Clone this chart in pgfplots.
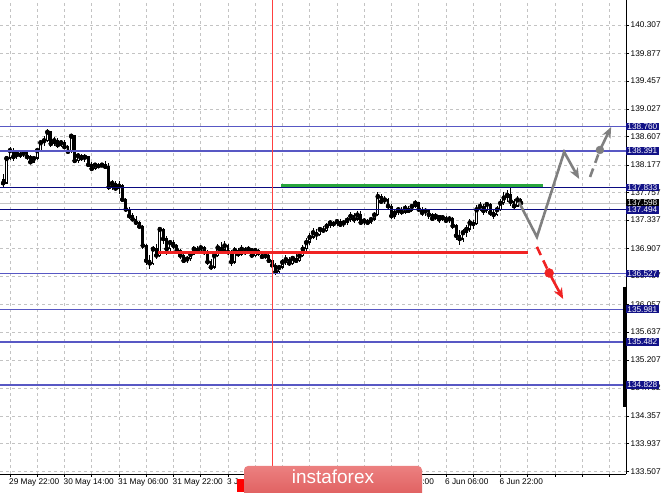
\documentclass[border=0pt]{standalone}
\usepackage{pgfplots}
\pgfplotsset{compat=1.18}
\usepackage{pgfplotstable}
\usepackage{fontspec}
\setmainfont{Liberation Sans}
\usetikzlibrary{arrows.meta,calc}
\definecolor{lvllight}{RGB}{88,88,196}
\definecolor{lvldark}{RGB}{10,10,128}
\definecolor{lblnavy}{RGB}{18,18,135}
\definecolor{gridc}{RGB}{195,195,195}
\definecolor{greenl}{RGB}{40,165,60}
\definecolor{redl}{RGB}{240,35,35}
\definecolor{grayarrow}{RGB}{128,128,128}
\definecolor{logotop}{RGB}{236,128,128}
\definecolor{logobot}{RGB}{222,92,92}

\pgfplotstableread{
x o h l c
-2 137.96 138.04 137.84 137.90
-1 137.90 138.32 137.88 138.28
0 138.28 138.45 138.25 138.40
1 138.40 138.43 138.24 138.30
2 138.30 138.40 138.27 138.35
3 138.35 138.39 138.29 138.33
4 138.33 138.40 138.30 138.36
5 138.36 138.38 138.26 138.30
6 138.30 138.33 138.19 138.22
7 138.22 138.31 138.20 138.28
8 138.28 138.43 138.26 138.40
9 138.40 138.56 138.38 138.52
10 138.52 138.62 138.47 138.55
11 138.55 138.72 138.52 138.68
12 138.68 138.70 138.45 138.50
13 138.50 138.60 138.46 138.55
14 138.55 138.58 138.44 138.48
15 138.48 138.56 138.45 138.52
16 138.52 138.55 138.42 138.45
17 138.45 138.48 138.35 138.38
18 138.38 138.65 138.36 138.62
19 138.62 138.64 138.20 138.24
20 138.24 138.36 138.21 138.32
21 138.32 138.35 138.24 138.28
22 138.28 138.34 138.22 138.30
23 138.30 138.31 138.14 138.18
24 138.18 138.22 138.09 138.12
25 138.12 138.21 138.10 138.18
26 138.18 138.20 138.13 138.16
27 138.16 138.21 138.14 138.18
28 138.18 138.23 138.12 138.15
29 138.15 138.20 137.80 137.84
30 137.84 137.95 137.80 137.90
31 137.90 137.94 137.78 137.82
32 137.82 137.93 137.74 137.86
33 137.86 137.88 137.62 137.65
34 137.65 137.68 137.46 137.50
35 137.50 137.53 137.36 137.40
36 137.40 137.45 137.32 137.35
37 137.35 137.40 137.26 137.30
38 137.30 137.32 137.20 137.24
39 137.24 137.26 136.90 136.95
40 136.95 136.98 136.66 136.72
41 136.72 136.80 136.60 136.68
42 136.68 136.95 136.66 136.90
43 136.90 136.98 136.74 136.80
44 136.80 137.24 136.78 137.20
45 137.20 137.22 136.98 137.05
46 137.05 137.10 136.80 136.90
47 136.90 137.04 136.85 137.00
48 137.00 137.03 136.90 136.95
49 136.95 136.98 136.84 136.88
50 136.88 136.90 136.75 136.80
51 136.80 136.84 136.68 136.72
52 136.72 136.79 136.68 136.75
53 136.75 136.86 136.72 136.82
54 136.82 136.95 136.80 136.90
55 136.90 136.94 136.82 136.86
56 136.86 136.96 136.83 136.92
57 136.92 136.95 136.80 136.85
58 136.85 136.88 136.66 136.70
59 136.70 136.74 136.58 136.62
60 136.62 136.84 136.60 136.80
61 136.80 136.97 136.78 136.92
62 136.92 137.00 136.84 136.88
63 136.88 137.02 136.85 136.95
64 136.95 136.98 136.80 136.85
65 136.85 136.88 136.64 136.70
66 136.70 136.93 136.67 136.88
67 136.88 136.92 136.78 136.82
68 136.82 136.96 136.79 136.90
69 136.90 136.93 136.80 136.85
70 136.85 136.95 136.82 136.90
71 136.90 136.92 136.76 136.80
72 136.80 136.91 136.77 136.88
73 136.88 136.90 136.79 136.84
74 136.84 136.86 136.74 136.78
75 136.78 136.84 136.75 136.80
76 136.80 136.82 136.68 136.72
77 136.72 136.75 136.60 136.65
78 136.65 136.68 136.50 136.55
79 136.55 136.66 136.52 136.62
80 136.62 136.74 136.59 136.70
81 136.70 136.80 136.66 136.74
82 136.74 136.77 136.64 136.68
83 136.68 136.79 136.66 136.76
84 136.76 136.82 136.68 136.72
85 136.72 136.86 136.70 136.80
86 136.80 136.96 136.78 136.90
87 136.90 137.06 136.86 137.00
88 137.00 137.14 136.96 137.08
89 137.08 137.22 137.05 137.15
90 137.15 137.20 137.04 137.12
91 137.12 137.24 137.10 137.20
92 137.20 137.25 137.14 137.18
93 137.18 137.30 137.15 137.25
94 137.25 137.34 137.22 137.30
95 137.30 137.33 137.24 137.28
96 137.28 137.36 137.25 137.32
97 137.32 137.35 137.23 137.27
98 137.27 137.34 137.24 137.30
99 137.30 137.38 137.27 137.34
100 137.34 137.46 137.31 137.40
101 137.40 137.44 137.30 137.35
102 137.35 137.47 137.33 137.42
103 137.42 137.48 137.26 137.30
104 137.30 137.37 137.27 137.33
105 137.33 137.36 137.26 137.30
106 137.30 137.39 137.28 137.35
107 137.35 137.46 137.32 137.42
108 137.42 137.76 137.40 137.70
109 137.70 137.74 137.58 137.62
110 137.62 137.70 137.58 137.65
111 137.65 137.68 137.50 137.55
112 137.55 137.58 137.36 137.40
113 137.40 137.50 137.36 137.45
114 137.45 137.54 137.42 137.50
115 137.50 137.53 137.42 137.46
116 137.46 137.56 137.43 137.52
117 137.52 137.55 137.44 137.48
118 137.48 137.59 137.46 137.55
119 137.55 137.64 137.52 137.60
120 137.60 137.62 137.46 137.50
121 137.50 137.54 137.40 137.45
122 137.45 137.52 137.40 137.48
123 137.48 137.50 137.36 137.42
124 137.42 137.45 137.32 137.36
125 137.36 137.44 137.34 137.40
126 137.40 137.42 137.30 137.35
127 137.35 137.42 137.33 137.38
128 137.38 137.40 137.29 137.33
129 137.33 137.40 137.30 137.36
130 137.36 137.38 137.20 137.25
131 137.25 137.28 137.04 137.10
132 137.10 137.18 136.96 137.05
133 137.05 137.20 137.00 137.15
134 137.15 137.26 137.08 137.20
135 137.20 137.36 137.16 137.30
136 137.30 137.34 137.20 137.28
137 137.28 137.56 137.26 137.50
138 137.50 137.62 137.47 137.55
139 137.55 137.58 137.42 137.48
140 137.48 137.62 137.44 137.58
141 137.58 137.60 137.40 137.45
142 137.45 137.50 137.36 137.42
143 137.42 137.55 137.40 137.50
144 137.50 137.66 137.48 137.60
145 137.60 137.76 137.57 137.68
146 137.68 137.80 137.62 137.72
147 137.72 137.82 137.55 137.62
148 137.62 137.66 137.50 137.55
149 137.55 137.70 137.53 137.65
150 137.65 137.68 137.58 137.598
}\candles

\begin{document}
\begin{tikzpicture}[x=1bp,y=1bp]
\begin{axis}[
  name=ax,
  scale only axis, width=626bp, height=474bp,
  xmin=-2.936, xmax=180.86, ymin=133.473, ymax=140.688,
  axis x line=bottom, axis y line=right,
  axis line style={-, black, line width=0.8bp},
  clip mode=individual,
  tick align=outside, major tick length=3bp,
  tick style={black, line width=0.6bp},
  grid=major,
  major grid style={gridc, dash pattern=on 3bp off 3bp, line width=0.6bp},
  xtick={0,8,...,176},
  xticklabels={29 May 22:00,,30 May 14:00,,31 May 06:00,,31 May 22:00,,3 Jun 14:00,,4 Jun 06:00,,4 Jun 22:00,,5 Jun 14:00,,6 Jun 06:00,,6 Jun 22:00,,,,,,,,},
  ytick={133.507,133.937,134.357,134.782,135.207,135.637,136.057,136.487,136.907,137.337,137.757,138.177,138.607,139.027,139.457,139.877,140.307},
  yticklabels={133.507,133.937,134.357,134.782,135.207,135.637,136.057,136.487,136.907,137.337,137.757,138.177,138.607,139.027,139.457,139.877,140.307},
  tick label style={font=\fontsize{8.3}{10}\selectfont, black},
  xticklabel style={anchor=north west, inner sep=0pt, yshift=-2bp, xshift=-1bp},
  yticklabel style={anchor=west, inner sep=0pt, xshift=1.5bp},
]
\coordinate (SW) at (rel axis cs:0,0);
% current price line (behind candles)
\addplot[gray!45, line width=0.8bp, forget plot] coordinates {(-2.936,137.598) (180.86,137.598)};
% wicks
\addplot[only marks, mark=none, forget plot,
  error bars/.cd, y dir=both, y explicit, error mark=none,
  error bar style={draw=black, solid, line width=0.9bp}]
  table[x=x, y=c, y error plus expr=\thisrow{h}-\thisrow{c}, y error minus expr=\thisrow{c}-\thisrow{l}] {\candles};
% bodies
\addplot[only marks, mark=none, forget plot,
  error bars/.cd, y dir=both, y explicit, error mark=none,
  error bar style={draw=black, solid, line width=2.8bp}]
  table[x=x, y=c, y error plus expr={max(\thisrow{o},\thisrow{c})-\thisrow{c}+0.008}, y error minus expr={\thisrow{c}-min(\thisrow{o},\thisrow{c})+0.008}] {\candles};
% bull interiors
\addplot[only marks, mark=none, forget plot,
  error bars/.cd, y dir=both, y explicit, error mark=none,
  error bar style={draw=white, solid, line width=1.0bp}]
  table[x=x, y expr={\thisrow{c}>\thisrow{o} ? \thisrow{c}-0.012 : \thisrow{c}}, y error plus expr=0, y error minus expr={\thisrow{c}>\thisrow{o} ? max(\thisrow{c}-\thisrow{o}-0.024,0) : 0}] {\candles};
% level lines
\addplot[lvllight, line width=1.3bp] coordinates {(-2.936,138.760) (180.86,138.760)};
\addplot[lvllight, line width=1.3bp] coordinates {(-2.936,138.391) (180.86,138.391)};
\addplot[lvldark, line width=1.1bp] coordinates {(-2.936,137.833) (180.86,137.833)};
\addplot[lvldark, line width=1.1bp] coordinates {(-2.936,137.494) (180.86,137.494)};
\addplot[lvllight, line width=1.3bp] coordinates {(-2.936,136.527) (180.86,136.527)};
\addplot[lvllight, line width=1.3bp] coordinates {(-2.936,135.981) (180.86,135.981)};
\addplot[lvllight, line width=1.3bp] coordinates {(-2.936,135.482) (180.86,135.482)};
\addplot[lvllight, line width=1.3bp] coordinates {(-2.936,134.828) (180.86,134.828)};
% vertical red line
\addplot[red!75, line width=0.9bp] coordinates {(76.92,133.473) (76.92,140.688)};
% green and red horizontal lines
\addplot[greenl, line width=3bp] coordinates {(79.6,137.862) (156.5,137.862)};
\addplot[redl, line width=3bp] coordinates {(43.5,136.848) (152.1,136.848)};
% gray scenario path
\addplot[grayarrow, line width=2.6bp, -{Stealth[length=11bp,width=9bp]}] coordinates {(149.4,137.613) (154.7,137.081) (162.7,138.374) (167.1,137.964)};
\addplot[grayarrow, line width=2.6bp, dash pattern=on 9bp off 6bp] coordinates {(170.3,137.994) (173.2,138.405)};
\addplot[grayarrow, line width=2.6bp, -{Stealth[length=11bp,width=9bp]}] coordinates {(173.2,138.405) (176.5,138.755)};
\addplot[grayarrow, mark=*, only marks, mark size=4bp] coordinates {(173.2,138.405)};
% red scenario path
\addplot[redl, line width=2.6bp, dash pattern=on 9bp off 6bp] coordinates {(154.7,136.93) (158.3,136.533)};
\addplot[redl, line width=2.6bp, -{Stealth[length=11bp,width=9bp]}] coordinates {(158.3,136.533) (162.4,136.137)};
\addplot[redl, mark=*, only marks, mark size=4.5bp] coordinates {(158.3,136.533)};
% thick bar on price scale
\addplot[black, line width=3bp] coordinates {(180.5,136.324) (180.5,134.493)};
% level labels
\tikzset{lvl/.style={anchor=west, fill=lblnavy, text=white, inner xsep=1.2bp, inner ysep=0.9bp, font=\fontsize{8.3}{10}\selectfont}}
\node[lvl] at (axis cs:180.86,138.760) {138.760};
\node[lvl] at (axis cs:180.86,138.391) {138.391};
\node[lvl] at (axis cs:180.86,137.833) {137.833};
\node[lvl, fill=black] at (axis cs:180.86,137.598) {137.598};
\node[lvl] at (axis cs:180.86,137.494) {137.494};
\node[lvl] at (axis cs:180.86,136.527) {136.527};
\node[lvl] at (axis cs:180.86,135.981) {135.981};
\node[lvl] at (axis cs:180.86,135.482) {135.482};
\node[lvl] at (axis cs:180.86,134.828) {134.828};
\end{axis}
% red date marker and logo
\fill[red] ($(SW)+(237,-18)$) rectangle ($(SW)+(245,-5)$);
\shade[top color=logotop, bottom color=logobot, rounded corners=4bp] ($(SW)+(244,-25)$) rectangle ($(SW)+(422,8)$);
\node[anchor=base, text=white, font=\fontsize{19}{22}\selectfont, inner sep=0pt] at ($(SW)+(333,-10)$) {instaforex};
\pgfresetboundingbox
\path[use as bounding box] ($(SW)+(0,-19)$) rectangle ($(SW)+(665,474)$);
\end{tikzpicture}
\end{document}
